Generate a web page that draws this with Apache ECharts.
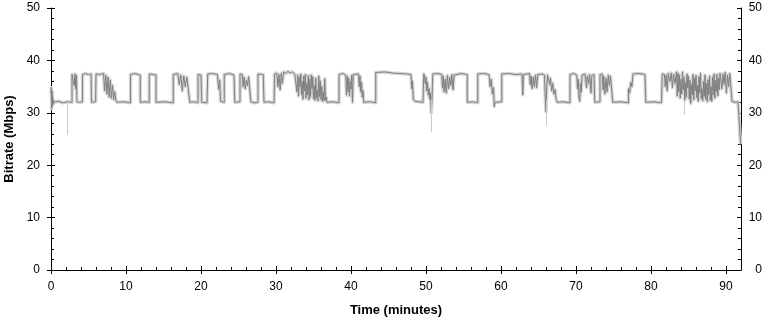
<!DOCTYPE html>
<html><head><meta charset="utf-8">
<script src="https://cdn.jsdelivr.net/npm/echarts@6/dist/echarts.min.js"></script>
<style>html,body{margin:0;padding:0;background:#fff}#c{width:773px;height:322px}</style>
</head><body><div id="c"></div>
<script>
const X_MIN = 0, X_MAX = 92;
const Y_MIN = 0, Y_MAX = 50, Y_STEP = 10;
const xMajorTicks = [0, 10, 20, 30, 40, 50, 60, 70, 80, 90];
const X_MINOR_STEP = 2;
const xAxisTitle = 'Time (minutes)';
const yAxisTitle = 'Bitrate (Mbps)';

// [time (minutes), bitrate (Mbps)]
const bitrateSamples = [
[0.0,33.6],[0.04,34.8],[0.08,30.8],[0.12,34.2],[0.16,31.2],[0.2,33.4],[0.26,31.6],[0.32,32.4],[0.4,32.0],[1.0,32.2],[1.6,31.9],[2.2,32.1],[2.8,32.0],
[2.8,37.3],[3.0,37.5],[3.1,35.2],[3.2,37.4],[3.3,34.6],[3.4,37.1],[3.45,32.1],[3.8,32.0],[4.2,32.1],
[4.2,37.3],[4.6,37.5],[5.0,37.3],[5.35,37.4],[5.4,32.0],[5.95,32.1],
[6.0,37.4],[6.5,37.3],[7.0,37.5],[7.15,34.2],[7.3,37.2],[7.45,33.6],[7.6,36.8],[7.75,33.0],[7.9,36.2],[8.05,32.8],[8.2,35.2],[8.35,32.5],[8.5,34.0],[8.65,32.4],[8.8,32.0],[9.7,32.1],[10.6,31.9],
[10.6,37.3],[11.2,37.5],[11.9,37.2],[11.9,32.0],[12.5,32.1],[13.1,32.0],
[13.1,37.4],[13.6,37.3],[14.0,37.2],[14.0,32.0],[15.2,32.1],[16.3,31.9],
[16.3,37.3],[16.9,37.5],[17.1,35.4],[17.3,37.2],[17.5,34.2],[17.7,37.0],[17.9,35.0],[18.1,36.8],[18.3,34.6],[18.5,32.0],[19.0,32.1],[19.6,31.9],
[19.6,37.3],[20.0,37.2],[20.1,32.0],[20.8,31.9],
[20.9,37.4],[21.5,37.5],[22.2,37.3],[22.35,34.5],[22.5,36.2],[22.6,32.2],[23.1,32.0],
[23.1,37.3],[23.8,37.5],[24.4,37.2],[24.5,32.0],[25.2,32.1],
[25.2,37.4],[25.5,37.3],[25.6,35.0],[25.75,36.8],[25.9,34.6],[26.05,36.2],[26.2,35.2],[26.35,36.9],[26.6,37.2],[26.65,32.1],[27.1,31.9],[27.6,32.0],
[27.6,37.4],[28.3,37.3],[28.4,32.0],[29.0,32.1],[29.75,31.9],
[29.8,37.4],[30.1,37.6],[30.25,35.0],[30.4,37.3],[30.55,34.4],[30.7,37.5],[30.85,35.6],[31.0,37.8],[31.3,37.5],[31.6,37.9],[31.9,37.6],[32.2,37.8],[32.5,37.4],
[32.7,37.5],[32.8,34.0],[32.9,37.2],[33.0,33.2],[33.1,36.8],[33.2,35.0],[33.3,37.4],[33.4,33.5],[33.5,36.0],[33.6,32.6],[33.7,37.0],[33.8,34.2],[33.9,37.3],[34.0,32.8],[34.1,35.6],[34.2,33.4],[34.3,37.1],[34.4,32.5],[34.5,36.4],[34.6,33.0],[34.7,37.2],[34.8,34.6],[34.9,36.9],[35.0,32.7],[35.1,35.2],[35.2,32.4],[35.3,36.6],[35.4,32.9],[35.5,34.3],[35.6,32.3],[35.7,37.0],[35.8,33.1],[35.9,36.1],[36.0,32.5],[36.1,35.0],[36.2,32.2],[36.3,34.0],[36.4,32.3],[36.5,36.5],[36.6,32.4],[36.7,33.0],[36.8,32.0],[37.6,32.1],[38.4,31.9],
[38.4,37.3],[38.9,37.5],[39.3,37.2],[39.4,33.4],[39.5,37.0],[39.6,34.0],[39.7,36.6],[39.8,33.2],[39.9,36.0],[40.0,34.5],[40.1,37.2],[40.2,32.0],[40.3,37.3],[41.0,37.4],[41.1,35.0],[41.2,37.0],[41.3,34.0],[41.4,35.8],[41.5,33.0],[41.6,34.2],[41.7,32.0],[42.5,32.1],[43.3,31.9],
[43.3,37.7],[44.5,37.8],[45.5,37.6],[46.5,37.5],[47.5,37.4],[48.0,37.3],[48.1,34.6],[48.2,36.0],[48.3,32.6],[48.5,32.2],[49.6,32.0],
[49.7,37.4],[49.8,37.0],[49.9,35.5],[50.0,36.8],[50.1,34.2],[50.2,35.8],[50.3,33.4],[50.4,34.6],[50.5,32.6],[50.6,33.8],[50.7,30.0],[50.8,32.5],[50.9,37.4],
[51.5,37.5],[52.1,37.3],[52.2,34.8],[52.3,37.0],[52.4,34.0],[52.55,36.4],[52.7,33.8],[52.85,37.1],[53.0,34.6],[53.15,36.8],[53.3,35.2],[53.45,37.3],[53.6,34.4],[53.75,37.2],[53.9,37.4],[54.7,37.5],[55.5,37.3],
[55.5,32.0],[56.2,32.1],[56.9,31.9],
[56.9,37.4],[57.7,37.5],[58.4,37.3],[58.55,35.0],[58.7,36.4],[58.85,33.6],[59.0,34.8],[59.1,31.2],[59.2,32.0],[60.1,32.1],
[60.1,37.4],[61.0,37.5],[62.0,37.3],[62.8,37.4],[62.9,33.4],[63.0,37.3],[63.8,37.5],[63.9,35.4],[64.0,37.0],[64.15,34.6],[64.3,36.8],[64.45,35.0],[64.6,37.2],[64.75,34.8],[64.9,37.3],[65.5,37.4],[65.8,37.2],[65.9,33.0],[66.0,30.2],[66.1,35.0],[66.2,37.2],[66.4,37.0],[66.5,35.4],[66.6,36.6],[66.75,34.2],[66.9,35.6],[67.05,33.6],[67.2,34.4],[67.35,32.6],[67.5,32.0],[68.3,32.1],[69.2,31.9],
[69.2,37.3],[69.7,37.5],[70.1,37.2],[70.2,34.6],[70.3,36.4],[70.4,33.0],[70.5,32.2],[70.6,35.6],[70.7,34.0],[70.8,37.2],[71.2,37.4],[71.4,34.8],[71.5,37.0],[71.7,35.6],[71.8,37.3],[72.0,33.8],[72.1,37.1],[72.4,37.3],[72.5,32.0],[73.2,32.1],
[73.2,37.3],[73.5,37.4],[73.6,34.4],[73.7,37.0],[73.85,33.6],[74.0,36.6],[74.15,34.0],[74.3,37.2],[74.45,35.2],[74.6,37.0],[74.8,37.3],[74.9,32.0],[76.0,32.1],[77.0,31.9],
[77.0,34.6],[77.15,33.8],[77.3,35.8],[77.45,35.0],[77.6,37.4],[78.4,37.5],[79.2,37.3],[79.3,32.0],[80.4,32.1],[81.4,31.9],
[81.5,37.4],[81.8,37.3],[81.9,35.0],[82.0,37.2],[82.15,34.2],[82.3,37.5],[82.5,36.0],[82.7,37.6],[82.85,34.8],[83.0,37.4],[83.2,35.6],[83.4,37.8],
[83.5,33.2],[83.6,37.6],[83.7,34.0],[83.8,37.2],[83.9,32.8],[84.0,36.4],[84.1,33.6],[84.2,37.8],[84.3,34.4],[84.4,36.8],[84.5,32.4],[84.6,35.8],[84.7,33.0],[84.8,37.4],[84.9,34.8],[85.0,37.0],[85.1,32.6],[85.2,36.2],[85.3,31.8],[85.4,35.4],[85.5,33.4],[85.6,37.3],[85.7,32.5],[85.8,36.6],[85.9,34.2],[86.0,37.1],[86.1,32.9],[86.2,35.2],[86.3,32.2],[86.4,36.9],[86.5,33.8],[86.6,37.5],[86.7,32.7],[86.8,34.6],[86.9,32.3],[87.0,36.0],[87.1,33.1],[87.2,37.2],[87.3,32.6],[87.4,35.6],[87.5,32.1],[87.6,36.3],[87.7,33.5],[87.8,37.0],[87.9,32.4],[88.0,35.0],[88.1,32.2],[88.2,36.8],[88.3,33.4],[88.4,37.4],[88.5,32.8],[88.6,36.2],[88.7,34.0],[88.8,37.3],[88.9,33.2],[89.0,36.6],[89.1,34.4],[89.2,37.5],
[89.3,37.6],[89.45,34.6],[89.6,37.4],[89.75,35.4],[89.9,37.7],[90.05,33.8],[90.2,37.2],[90.35,35.0],[90.5,37.5],[90.7,37.3],[90.8,32.2],[91.2,32.0],[91.6,32.1],[91.85,31.8],[91.95,24.0]
];

// brief downward spikes visible only in the light envelope: [time, from, to]
const spikeSamples = [[2.1,32.0,25.8],[50.75,32.5,26.3],[66.05,32.5,27.6],[84.4,32.4,29.6]];

const FONT = "'Liberation Sans', Arial, sans-serif";
const chart = echarts.init(document.getElementById('c'), null, {renderer: 'canvas'});

const blank = {show: false};
function xAx(extra) {
  return Object.assign({type: 'value', min: X_MIN, max: X_MAX, position: 'bottom', gridIndex: 0,
    splitLine: blank, axisLine: blank, axisLabel: blank, axisTick: blank}, extra);
}
function yAx(pos, extra) {
  return Object.assign({type: 'value', min: Y_MIN, max: Y_MAX, interval: Y_STEP, position: pos, gridIndex: 0,
    splitLine: blank, axisLine: blank, axisLabel: blank, axisTick: blank}, extra);
}
const black = {color: '#000', width: 1};

chart.setOption({
  animation: false,
  backgroundColor: '#fff',
  grid: {left: 51, right: 32, top: 8, bottom: 52, containLabel: false, outerBoundsMode: 'none'},
  xAxis: [
    xAx({
      axisLine: {show: true, onZero: false, lineStyle: black},
      axisTick: {show: true, inside: true, length: 4, lineStyle: black, customValues: xMajorTicks},
      axisLabel: {show: true, color: '#000', fontSize: 12, fontFamily: FONT, margin: 11, customValues: xMajorTicks},
      name: xAxisTitle, nameLocation: 'middle', nameGap: 34,
      nameTextStyle: {color: '#000', fontSize: 13, fontWeight: 'bold', fontFamily: FONT}
    }),
    xAx({interval: X_MINOR_STEP, axisTick: {show: true, inside: true, length: 3, lineStyle: black}}),
    xAx({axisTick: {show: true, inside: false, length: 4, lineStyle: black, customValues: xMajorTicks}})
  ],
  yAxis: [
    yAx('left', {
      axisLine: {show: true, onZero: false, lineStyle: black},
      axisTick: {show: true, inside: true, length: 4, lineStyle: black},
      minorTick: {show: true, splitNumber: 5, length: 3, lineStyle: black},
      axisLabel: {show: true, color: '#000', fontSize: 12, fontFamily: FONT, margin: 11},
      name: yAxisTitle, nameLocation: 'middle', nameGap: 34,
      nameTextStyle: {color: '#000', fontSize: 13, fontWeight: 'bold', fontFamily: FONT}
    }),
    yAx('left', {axisTick: {show: true, inside: false, length: 4, lineStyle: black}}),
    yAx('right', {
      axisLine: {show: true, onZero: false, lineStyle: black},
      axisTick: {show: true, inside: true, length: 4, lineStyle: black},
      minorTick: {show: true, splitNumber: 5, length: 3, lineStyle: black},
      axisLabel: {show: true, color: '#000', fontSize: 12, fontFamily: FONT, margin: 21, align: 'right'}
    }),
    yAx('right', {axisTick: {show: true, inside: false, length: 4, lineStyle: black}})
  ],
  series: [
    {
      type: 'line', xAxisIndex: 0, yAxisIndex: 0, data: bitrateSamples, z: 2,
      showSymbol: false, symbol: 'none', silent: true,
      lineStyle: {color: '#d6d6d6', width: 3.5, join: 'round'},
      markLine: {
        silent: true, symbol: ['none', 'none'], label: {show: false}, animation: false,
        lineStyle: {color: '#cacaca', width: 1, type: 'solid'},
        data: spikeSamples.map(s => [{coord: [s[0], s[1]]}, {coord: [s[0], s[2]]}])
      }
    },
    {
      type: 'line', xAxisIndex: 0, yAxisIndex: 0, data: bitrateSamples, z: 3,
      showSymbol: false, symbol: 'none', silent: true,
      lineStyle: {color: '#808080', width: 1}
    }
  ]
});
</script>
</body></html>
